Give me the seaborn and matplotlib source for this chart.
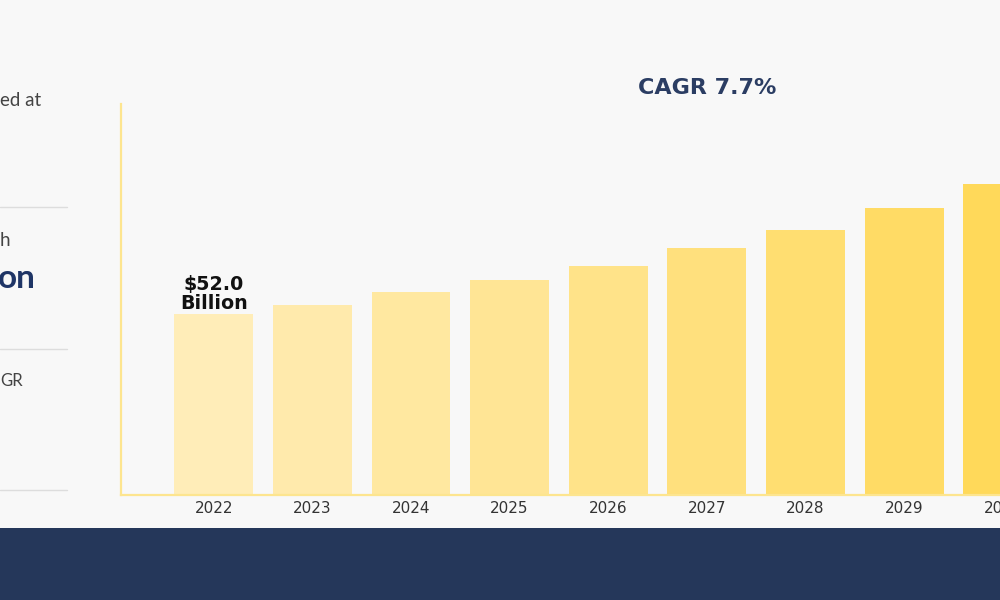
#!/usr/bin/env python3
"""Market size bar chart with CAGR note (cropped web infographic)"""

import pandas as pd
import matplotlib
matplotlib.use("Agg")
import matplotlib.pyplot as plt
from matplotlib.patches import Rectangle
from matplotlib.lines import Line2D
import seaborn as sns

# Data (USD billion)
years = ["2022", "2023", "2024", "2025", "2026", "2027", "2028", "2029", "2030"]
market_size = [52.0, 54.6, 58.2, 61.7, 65.9, 70.8, 76.1, 82.4, 89.3]
first_label = "$52.0\nBillion"
cagr_text = "CAGR 7.7%"
side_texts = ["ed at", "h", "on", "GR"]

BG = "#f8f8f8"
NAVY = "#25375a"
AXIS_YELLOW = "#fde58f"

sns.set_theme(style="white")
plt.rcParams["font.family"] = ["DejaVu Sans"]

fig = plt.figure(figsize=(10, 6), dpi=100, facecolor=BG)
ax = fig.add_axes([0.121, 0.175, 0.931, 0.6517])
ax.set_facecolor(BG)

df = pd.DataFrame({"Year": years, "Size": market_size})
palette = sns.blend_palette(["#ffedb8", "#ffd95a"], n_colors=len(years))
sns.barplot(data=df, x="Year", y="Size", hue="Year", palette=palette,
            legend=False, width=0.8, saturation=1, linewidth=0, ax=ax)

ax.set_xlim(-0.94, 8.5)
ax.set_ylim(0, 112.3)
ax.set_xlabel("")
ax.set_ylabel("")
ax.set_yticks([])
ax.tick_params(axis="x", length=0, labelsize=11, colors="#333333", pad=4)
for side in ["top", "right"]:
    ax.spines[side].set_visible(False)
for side in ["left", "bottom"]:
    ax.spines[side].set_color(AXIS_YELLOW)
    ax.spines[side].set_linewidth(1.6)

# Value label on the first bar
ax.text(0, market_size[0] + 0.4, first_label, ha="center", va="bottom",
        fontsize=13.7, fontweight="bold", color="#111111", linespacing=0.95)

# CAGR headline
fig.text(0.707, 0.853, cagr_text, ha="center", va="center",
         fontsize=16, fontweight="bold", color="#2b3d63")

# Cropped sidebar on the left
fig.text(0.0, 1 - 100 / 600, side_texts[0], ha="left", va="center",
         fontsize=13.5, color="#444444", family="Lato")
fig.text(0.0, 1 - 240 / 600, side_texts[1], ha="left", va="center",
         fontsize=13.5, color="#444444", family="Lato")
fig.text(-0.002, 1 - 278 / 600, side_texts[2], ha="left", va="center",
         fontsize=24, fontweight="bold", color="#1f3566", family="Lato")
fig.text(0.0, 1 - 381 / 600, side_texts[3], ha="left", va="center",
         fontsize=12, color="#444444", family="Lato")
for ypx in [207, 349, 490]:
    fig.add_artist(Line2D([0, 0.067], [1 - ypx / 600] * 2,
                          transform=fig.transFigure, color="#dddddd", lw=1))

# Navy footer band
fig.add_artist(Rectangle((0, 0), 1, 72 / 600, transform=fig.transFigure,
                         facecolor=NAVY, edgecolor="none"))

fig.savefig("out.png", dpi=100, facecolor=BG)
